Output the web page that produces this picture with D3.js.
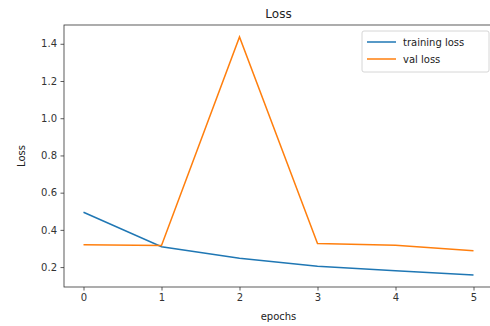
<!DOCTYPE html>
<html>
<head>
<meta charset="utf-8">
<script src="https://cdn.jsdelivr.net/npm/d3@7"></script>
<style>
  body { margin: 0; background: #fff; }
  svg { display: block; font-family: "DejaVu Sans", sans-serif; }
</style>
</head>
<body>
<svg id="chart" width="490" height="326"></svg>
<script>
// Chart data
const epochs = [0, 1, 2, 3, 4, 5];
const trainingLoss = [0.495, 0.309, 0.247, 0.205, 0.18, 0.157];
const valLoss = [0.32, 0.316, 1.437, 0.327, 0.317, 0.288];
const yTicks = [0.2, 0.4, 0.6, 0.8, 1.0, 1.2, 1.4];
const seriesNames = ["training loss", "val loss"];
const seriesColors = ["#1f77b4", "#ff7f0e"];

const svg = d3.select("#chart");
const margin = { left: 64, top: 25, right: -3, bottom: 39 };
const width = 490 - margin.left - margin.right;
const height = 326 - margin.top - margin.bottom;

const g = svg.append("g").attr("transform", `translate(${margin.left},${margin.top})`);

// matplotlib style 5% margins
const x = d3.scaleLinear().domain([-0.25, 5.25]).range([0, width]);
const yMin = 0.157, yMax = 1.437, pad = (yMax - yMin) * 0.05;
const y = d3.scaleLinear().domain([yMin - pad, yMax + pad]).range([height, 0]);

// Axes
const xAxis = g.append("g")
  .attr("transform", `translate(0,${height})`)
  .call(d3.axisBottom(x).tickValues(epochs).tickFormat(d3.format("d")).tickSize(3.5).tickPadding(3.5));
const yAxis = g.append("g")
  .call(d3.axisLeft(y).tickValues(yTicks).tickFormat(d3.format(".1f")).tickSize(3.5).tickPadding(3.5));

[xAxis, yAxis].forEach((a) => {
  a.select(".domain").remove();
  a.selectAll("line").attr("stroke", "#333").attr("stroke-width", 0.8);
  a.selectAll("text").attr("fill", "#333").attr("font-size", "10px").attr("font-family", "DejaVu Sans");
});

// Spines
g.append("rect")
  .attr("width", width)
  .attr("height", height)
  .attr("fill", "none")
  .attr("stroke", "#333")
  .attr("stroke-width", 0.8);

// Lines
const line = d3.line().x((d, i) => x(epochs[i])).y((d) => y(d));
[trainingLoss, valLoss].forEach((s, i) => {
  g.append("path")
    .datum(s)
    .attr("d", line)
    .attr("fill", "none")
    .attr("stroke", seriesColors[i])
    .attr("stroke-width", 1.5);
});

// Title and axis labels
svg.append("text")
  .attr("x", margin.left + width / 2)
  .attr("y", 18)
  .attr("text-anchor", "middle")
  .attr("font-size", "12px")
  .attr("fill", "#222")
  .text("Loss");

svg.append("text")
  .attr("x", margin.left + width / 2)
  .attr("y", 320)
  .attr("text-anchor", "middle")
  .attr("font-size", "10px")
  .attr("fill", "#222")
  .text("epochs");

svg.append("text")
  .attr("transform", `translate(25,${margin.top + height / 2}) rotate(-90)`)
  .attr("text-anchor", "middle")
  .attr("font-size", "10px")
  .attr("fill", "#222")
  .text("Loss");

// Legend
const legend = g.append("g").attr("transform", `translate(${x(5.25) - 131},6)`);
legend.append("rect")
  .attr("width", 127)
  .attr("height", 41)
  .attr("rx", 2)
  .attr("fill", "#fff")
  .attr("fill-opacity", 0.8)
  .attr("stroke", "#ccc")
  .attr("stroke-width", 0.8);
seriesNames.forEach((name, i) => {
  const row = legend.append("g").attr("transform", `translate(0,${11 + i * 17})`);
  row.append("line")
    .attr("x1", 5).attr("x2", 34)
    .attr("stroke", seriesColors[i])
    .attr("stroke-width", 1.5);
  row.append("text")
    .attr("x", 41)
    .attr("dy", "0.35em")
    .attr("font-size", "10px")
    .attr("fill", "#222")
    .text(name);
});
</script>
</body>
</html>
